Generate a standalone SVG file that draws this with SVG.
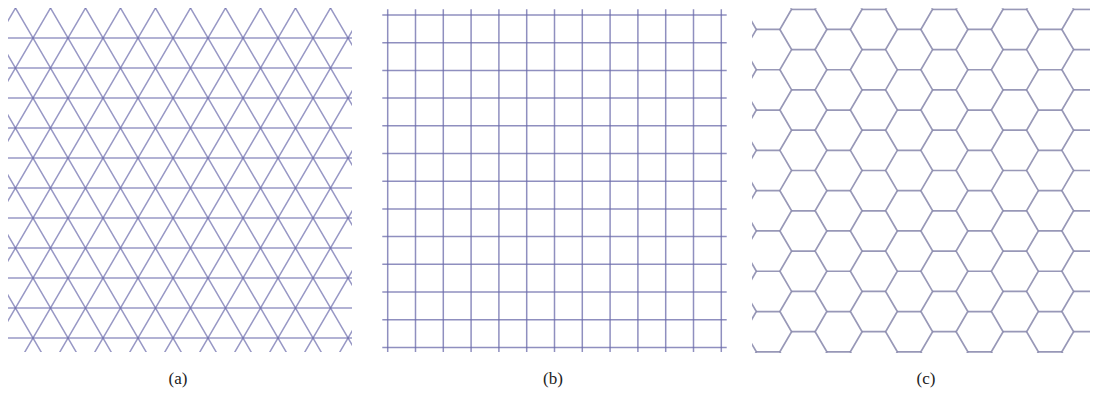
<svg xmlns="http://www.w3.org/2000/svg" xmlns:xlink="http://www.w3.org/1999/xlink" width="1093" height="396" viewBox="0 0 1093 396">
<style>
.a{fill:none;stroke:#6c6cac;stroke-opacity:.7;stroke-width:1.5}
.b{fill:none;stroke:#6a6aaa;stroke-opacity:.75;stroke-width:1.5}
.c{fill:none;stroke:#8686aa;stroke-opacity:.85;stroke-width:1.7}
.hc{fill:none;stroke:#8686aa;stroke-opacity:.85;stroke-width:1.7;stroke-dasharray:23.5 47}
.lbl{font-family:"Liberation Serif","DejaVu Serif",serif;font-size:17px;fill:#222;text-anchor:middle}
</style>
<defs>
<clipPath id="ca"><rect x="8" y="8" width="344" height="344"/></clipPath>
<clipPath id="cc"><rect x="752" y="8.3" width="338" height="344.6"/></clipPath>
<path id="zr" d="M0,-10.85l11.75,20.15l-11.75,20.15l11.75,20.15l-11.75,20.15l11.75,20.15l-11.75,20.15l11.75,20.15l-11.75,20.15l11.75,20.15l-11.75,20.15l11.75,20.15l-11.75,20.15l11.75,20.15l-11.75,20.15l11.75,20.15l-11.75,20.15l11.75,20.15l-11.75,20.15l11.75,20.15"/>
<path id="zl" d="M0,-10.85l-11.75,20.15l11.75,20.15l-11.75,20.15l11.75,20.15l-11.75,20.15l11.75,20.15l-11.75,20.15l11.75,20.15l-11.75,20.15l11.75,20.15l-11.75,20.15l11.75,20.15l-11.75,20.15l11.75,20.15l-11.75,20.15l11.75,20.15l-11.75,20.15l11.75,20.15l-11.75,20.15"/>
</defs>
<rect width="1093" height="396" fill="#fff"/>

<g id="panel-a" clip-path="url(#ca)">
<path class="a" d="M8,38H352M8,68H352M8,98H352M8,128H352M8,158H352M8,188H352M8,218H352M8,248H352M8,278H352M8,308H352M8,338H352"/>
<path class="a" d="M20.17,0l-210,360M55.17,0l-210,360M90.17,0l-210,360M125.17,0l-210,360M160.17,0l-210,360M195.17,0l-210,360M230.17,0l-210,360M265.17,0l-210,360M300.17,0l-210,360M335.17,0l-210,360M370.17,0l-210,360M405.17,0l-210,360M440.17,0l-210,360M475.17,0l-210,360M510.17,0l-210,360M545.17,0l-210,360"/>
<path class="a" d="M-164.17,0l210,360M-129.17,0l210,360M-94.17,0l210,360M-59.17,0l210,360M-24.17,0l210,360M10.83,0l210,360M45.83,0l210,360M80.83,0l210,360M115.83,0l210,360M150.83,0l210,360M185.83,0l210,360M220.83,0l210,360M255.83,0l210,360M290.83,0l210,360M325.83,0l210,360"/>
</g>

<g id="panel-b">
<path class="b" d="M387.7,9.3V352M415.5,9.3V352M443.3,9.3V352M471.1,9.3V352M498.9,9.3V352M526.7,9.3V352M554.5,9.3V352M582.3,9.3V352M610.1,9.3V352M637.9,9.3V352M665.7,9.3V352M693.5,9.3V352M721.3,9.3V352"/>
<path class="b" d="M382.3,15H726.7M382.3,42.7H726.7M382.3,70.4H726.7M382.3,98.1H726.7M382.3,125.8H726.7M382.3,153.5H726.7M382.3,181.2H726.7M382.3,208.9H726.7M382.3,236.6H726.7M382.3,264.3H726.7M382.3,292H726.7M382.3,319.7H726.7M382.3,347.4H726.7"/>
</g>

<g id="panel-c" clip-path="url(#cc)">
<use href="#zr" xlink:href="#zr" class="c" x="779.85"/>
<use href="#zr" xlink:href="#zr" class="c" x="850.35"/>
<use href="#zr" xlink:href="#zr" class="c" x="920.85"/>
<use href="#zr" xlink:href="#zr" class="c" x="991.35"/>
<use href="#zr" xlink:href="#zr" class="c" x="1061.85"/>
<use href="#zl" xlink:href="#zl" class="c" x="756.35"/>
<use href="#zl" xlink:href="#zl" class="c" x="826.85"/>
<use href="#zl" xlink:href="#zl" class="c" x="897.35"/>
<use href="#zl" xlink:href="#zl" class="c" x="967.85"/>
<use href="#zl" xlink:href="#zl" class="c" x="1038.35"/>
<path class="hc" d="M791.6,9.3H1100M791.6,49.6H1100M791.6,89.9H1100M791.6,130.2H1100M791.6,170.5H1100M791.6,210.8H1100M791.6,251.1H1100M791.6,291.4H1100M791.6,331.7H1100"/>
<path class="hc" d="M756.35,29.45H1100M756.35,69.75H1100M756.35,110.05H1100M756.35,150.35H1100M756.35,190.65H1100M756.35,230.95H1100M756.35,271.25H1100M756.35,311.55H1100M756.35,351.85H1100"/>
</g>

<g id="labels">
<text class="lbl" x="178" y="384">(a)</text>
<text class="lbl" x="553" y="384">(b)</text>
<text class="lbl" x="926" y="384">(c)</text>
</g>
</svg>
